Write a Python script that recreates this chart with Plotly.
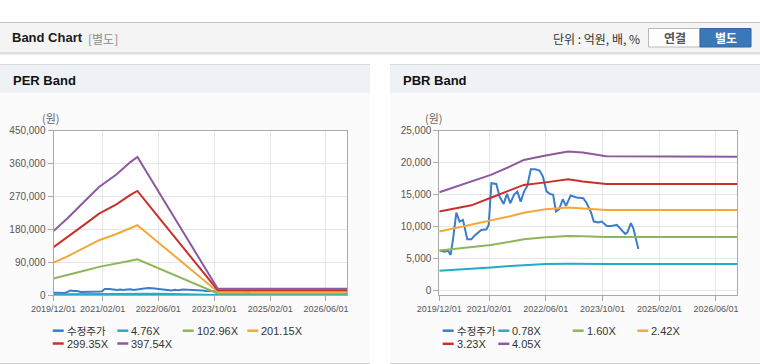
import plotly.graph_objects as go

W, H = 760, 364

# ---------------- data ----------------
price_dates = ["2019-12-04", "2020-01-16", "2020-02-14", "2020-03-07", "2020-03-27", "2020-04-25",
               "2020-05-23", "2020-06-21", "2020-07-28", "2020-09-01", "2020-10-05", "2020-11-25",
               "2021-01-08", "2021-01-28", "2021-02-20", "2021-04-03", "2021-05-01", "2021-06-05",
               "2021-07-04", "2021-08-01", "2021-09-02", "2021-10-01", "2021-10-29", "2021-11-27",
               "2021-12-25", "2022-01-24", "2022-03-03", "2022-04-10", "2022-05-08", "2022-06-08",
               "2022-07-07", "2022-08-04", "2022-08-28", "2022-09-25", "2022-10-25", "2022-11-22",
               "2023-01-01", "2023-02-22", "2023-04-19", "2023-05-16", "2023-06-22", "2023-07-19",
               "2023-08-25", "2023-09-25", "2023-11-07", "2023-12-19", "2024-02-01", "2024-02-28",
               "2024-04-13", "2024-05-01", "2024-06-01", "2024-06-22", "2024-07-16", "2024-08-04"]
price_values = [6210, 6050, 6210, 5530, 7880, 12170,
                10760, 11020, 7990, 7990, 8670, 9450,
                9560, 10240, 16770, 16660, 14680, 13530,
                15090, 13630, 14940, 15460, 13890, 15460,
                16350, 18960, 18960, 18750, 17800, 15500,
                15100, 14940, 12330, 12690, 14260, 13210,
                14830, 14520, 14410, 13740, 12330, 10760,
                10600, 10760, 10080, 10080, 10240, 9710,
                8820, 9030, 10500, 9710, 7990, 6470]

per_dates = ["2019-12-01", "2020-04-01", "2020-09-01", "2021-01-01", "2021-06-01", "2021-10-01",
             "2021-12-01", "2022-06-01", "2023-01-01", "2023-06-01", "2023-11-01", "2026-12-01"]
per_476 = [2100, 2500, 3100, 3550, 3950, 4400, 4500, 3400, 2100, 1200, 200, 200]
per_10296 = [45000, 54000, 67000, 77000, 85500, 94000, 98000, 74000, 45000, 25000, 4400, 4400]
per_20115 = [88500, 106000, 130500, 150000, 167000, 184000, 191000, 144000, 88500, 49000, 8600, 8600]
per_29935 = [131000, 158000, 194000, 223000, 248500, 274000, 285000, 214000, 132000, 73000, 13000, 13000]
per_39754 = [175000, 210000, 258000, 296000, 330000, 364000, 378000, 285000, 175000, 97000, 17000, 17000]

pbr_dates = ["2019-12-01", "2020-09-01", "2021-02-15", "2021-08-01", "2021-11-25", "2022-06-01",
             "2022-12-10", "2023-04-15", "2023-11-01", "2026-12-01"]
pbr_078 = [3050, 3300, 3550, 3800, 3950, 4100, 4150, 4130, 4100, 4100]
pbr_160 = [6210, 6800, 7100, 7600, 8000, 8300, 8510, 8450, 8350, 8350]
pbr_242 = [9190, 10230, 10860, 11600, 12150, 12690, 12950, 12790, 12590, 12590]
pbr_323 = [12330, 13300, 14500, 15700, 16500, 16900, 17390, 17030, 16660, 16660]
pbr_405 = [15360, 17030, 18070, 19400, 20420, 21100, 21730, 21570, 21000, 20900]

per_names = ["수정주가", "4.76X", "102.96X", "201.15X", "299.35X", "397.54X"]
pbr_names = ["수정주가", "0.78X", "1.60X", "2.42X", "3.23X", "4.05X"]
colors = ["#3a7dcc", "#25abc8", "#8db65b", "#f3a83b", "#c9302c", "#8c5aa0"]

x_tickvals = ["2019-12-01", "2021-02-01", "2022-06-01", "2023-10-01", "2025-02-01", "2026-06-01"]
x_ticktext = ["2019/12/01", "2021/02/01", "2022/06/01", "2023/10/01", "2025/02/01", "2026/06/01"]
per_yticks = [0, 90000, 180000, 270000, 360000, 450000]
per_yticktext = ["0", "90,000", "180,000", "270,000", "360,000", "450,000"]
pbr_yticks = [0, 5000, 10000, 15000, 20000, 25000]
pbr_yticktext = ["0", "5,000", "10,000", "15,000", "20,000", "25,000"]

# ---------------- helpers ----------------
def px(x):
    return x / W

def py(y):
    return 1 - y / H

fig = go.Figure()

per_series = [per_476, per_10296, per_20115, per_29935, per_39754]
pbr_series = [pbr_078, pbr_160, pbr_242, pbr_323, pbr_405]

fig.add_trace(go.Scatter(x=price_dates, y=price_values, mode="lines", name=per_names[0],
                         line=dict(color=colors[0], width=2), xaxis="x", yaxis="y", showlegend=False))
for i, s in enumerate(per_series):
    fig.add_trace(go.Scatter(x=per_dates, y=s, mode="lines", name=per_names[i + 1],
                             line=dict(color=colors[i + 1], width=2), xaxis="x", yaxis="y",
                             showlegend=False))

fig.add_trace(go.Scatter(x=price_dates, y=price_values, mode="lines", name=pbr_names[0],
                         line=dict(color=colors[0], width=2), xaxis="x2", yaxis="y2", showlegend=False))
for i, s in enumerate(pbr_series):
    fig.add_trace(go.Scatter(x=pbr_dates, y=s, mode="lines", name=pbr_names[i + 1],
                             line=dict(color=colors[i + 1], width=2), xaxis="x2", yaxis="y2",
                             showlegend=False))

tickfont = dict(family="Liberation Sans, Arial, sans-serif", size=9, color="#555")
common_x = dict(type="date", range=["2019-12-01", "2026-12-01"], tickvals=x_tickvals, ticktext=x_ticktext,
                tickangle=0, showgrid=True, gridcolor="#e6e6e6", gridwidth=1, showline=True,
                linecolor="#aaaaaa", linewidth=1, mirror=True, ticks="outside", ticklen=5,
                tickcolor="#aaaaaa", tickfont=tickfont, zeroline=False, fixedrange=True, automargin=False)
common_y = dict(showgrid=True, gridcolor="#e6e6e6", gridwidth=1, showline=True, linecolor="#aaaaaa",
                linewidth=1, mirror=True, ticks="outside", ticklen=5, tickcolor="#aaaaaa",
                tickfont=dict(family="Liberation Sans, Arial, sans-serif", size=10, color="#555"),
                zeroline=False, fixedrange=True, automargin=False)

d1x = [px(53.5), px(347)]
d2x = [px(439.3), px(737.3)]
dy = [py(295), py(130.7)]

fig.update_layout(
    template="none",
    width=W, height=H, autosize=False,
    margin=dict(l=0, r=0, t=0, b=0, pad=0),
    paper_bgcolor="white", plot_bgcolor="white",
    xaxis=dict(domain=d1x, anchor="y", **common_x),
    yaxis=dict(domain=dy, anchor="x", range=[0, 450000], tickvals=per_yticks, ticktext=per_yticktext, **common_y),
    xaxis2=dict(domain=d2x, anchor="y2", **common_x),
    yaxis2=dict(domain=dy, anchor="x2", range=[-750, 25000], tickvals=pbr_yticks, ticktext=pbr_yticktext, **common_y),
    showlegend=False,
)

shapes = []
def rect(x0, y0, x1, y1, fill, line_color=None, lw=0):
    shapes.append(dict(type="rect", xref="paper", yref="paper", x0=px(x0), x1=px(x1), y0=py(y1), y1=py(y0),
                       fillcolor=fill, line=dict(color=line_color or fill, width=lw), layer="below"))

def hline(x0, x1, y, color, w=1, layer="below"):
    shapes.append(dict(type="line", xref="paper", yref="paper", x0=px(x0), x1=px(x1), y0=py(y), y1=py(y),
                       line=dict(color=color, width=w), layer=layer))

# top header bar
rect(0, 22.5, 760, 52.5, "#f4f4f4")
hline(0, 760, 22.5, "#c2c2c2", 1)
hline(0, 760, 53, "#d6d6d6", 1.5)
hline(0, 760, 54.5, "#ececec", 1)
# buttons
rect(648.5, 28.5, 700, 47, "#ffffff", "#b9b9b9", 1)
rect(700, 28.5, 751, 47, "#3a78b8", "#2f67a3", 1)

# panels
for (a, b) in [(0, 370), (390, 760)]:
    rect(a, 64.5, b, 363, "#fbfbfc")
    rect(a, 65, b, 93, "#eef2f7")
    hline(a, b, 64.5, "#d9d9d9", 1.2)
    hline(a, b, 363.5, "#cfcfcf", 1.2)

# plot area white bg
rect(53.5, 130.7, 347, 295, "#ffffff")
rect(439.3, 130.7, 737.3, 295, "#ffffff")

annotations = []
def text(x, y, s, size=12, color="#333", anchor="left", family="Liberation Sans, Noto Sans CJK KR, sans-serif"):
    annotations.append(dict(x=px(x), y=py(y), xref="paper", yref="paper", text=s, showarrow=False,
                            xanchor=anchor, yanchor="middle", borderpad=0,
                            font=dict(size=size, color=color, family=family)))

text(11, 38, "<b>Band Chart</b>", 13, "#1a1a1a")
text(87, 38.5, "[별도]", 12, "#8a8a8a", family="Noto Sans CJK KR, sans-serif")
text(641, 38.5, "단위 : 억원, 배, %", 12, "#333", anchor="right", family="Noto Sans CJK KR, sans-serif")
text(674.5, 38, "<b>연결</b>", 12, "#555", anchor="center", family="Noto Sans CJK KR, sans-serif")
text(725.5, 38, "<b>별도</b>", 12, "#ffffff", anchor="center", family="Noto Sans CJK KR, sans-serif")

text(12, 80, "<b>PER Band</b>", 13, "#111")
text(401.5, 80, "<b>PBR Band</b>", 13, "#111")

text(51, 118, "(원)", 11, "#666", anchor="center", family="Noto Sans CJK KR, sans-serif")
text(434, 118, "(원)", 11, "#666", anchor="center", family="Noto Sans CJK KR, sans-serif")

# legends (custom, positioned like the original)
per_leg_pos = [(52.7, 330.7), (117.3, 330.7), (182.7, 330.7), (247.3, 330.7), (52.7, 343.5), (117.3, 343.5)]
pbr_leg_pos = [(442.7, 330.7), (498.3, 330.7), (572.7, 330.7), (637.3, 330.7), (442.7, 343.8), (498.3, 343.8)]
for names, pos in [(per_names, per_leg_pos), (pbr_names, pbr_leg_pos)]:
    for i, (n, (lx, ly)) in enumerate(zip(names, pos)):
        hline(lx, lx + 11, ly, colors[i], 2.5, layer="above")
        text(lx + 13, ly, n, 10.5 if i == 0 else 11, "#333")

fig.update_layout(shapes=shapes, annotations=annotations)
fig.write_html("out.html", config={"displayModeBar": False},
               post_script="document.body.style.margin='0';document.body.style.overflow='hidden';")
